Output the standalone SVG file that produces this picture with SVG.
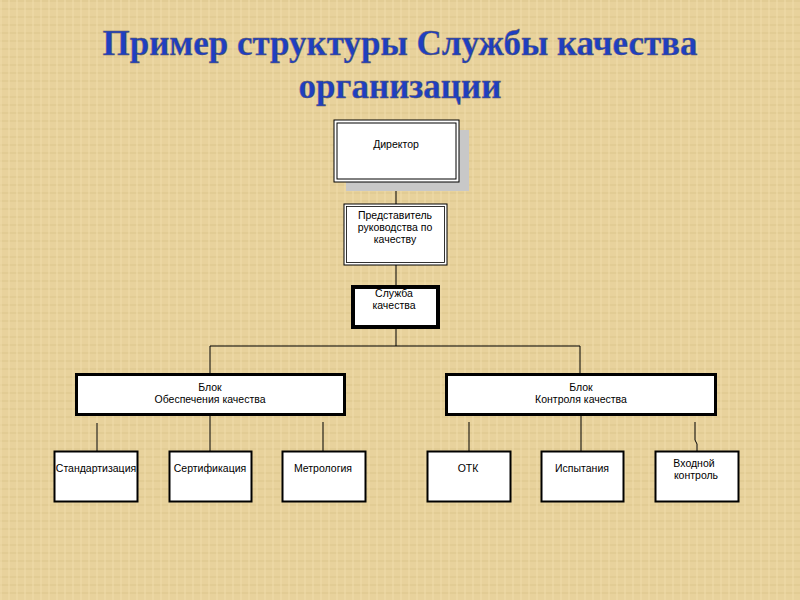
<svg xmlns="http://www.w3.org/2000/svg" width="800" height="600" viewBox="0 0 800 600">
<defs>
<pattern id="tex" width="8" height="8" patternUnits="userSpaceOnUse">
<rect width="8" height="8" fill="#e8d29c"/>
<rect width="8" height="2" fill="#dcc58c" opacity="0.5"/>
<rect width="2" height="8" fill="#f0dcaa" opacity="0.5"/>
</pattern>
</defs>
<style>
.b{fill:#fff;stroke:#000}
.t{font-family:"Liberation Sans",Arial,sans-serif;font-size:10.5px;text-anchor:middle;fill:#000}
.ttl{font-family:"Liberation Serif","Times New Roman",serif;font-weight:bold;font-size:35px;text-anchor:middle;fill:#1f3fc0;stroke:#6a6050;stroke-width:0.4}
.c{stroke:#000;stroke-width:1;fill:none}
</style>
<rect width="800" height="600" fill="url(#tex)"/>
<text class="ttl" x="400" y="55">Пример структуры Службы качества</text>
<text class="ttl" x="400" y="98">организации</text>
<g id="connectors">
<path class="c" d="M396 182V204M396 265V286M396 327V346M210 346H580M210 346V374M580 346V374"/>
<path class="c" d="M97 423V451M210 414V451M323 422V451M469 422V451M581 414V451M695 422V440L697 444V451"/>
</g>
<g id="director">
<rect x="346" y="130" width="123" height="61" fill="#c8c8c8"/>
<rect class="b" x="334" y="120" width="125" height="62" stroke-width="1"/>
<rect x="337" y="123" width="119" height="56" fill="none" stroke="#000" stroke-width="1"/>
<text class="t" x="396" y="148">Директор</text>
</g>
<g id="rep">
<rect class="b" x="344" y="204" width="103" height="61" stroke-width="1"/>
<rect x="346.5" y="206.5" width="98" height="56" fill="none" stroke="#000" stroke-width="0.8"/>
<text class="t" x="395" y="219">Представитель</text>
<text class="t" x="395" y="231">руководства по</text>
<text class="t" x="395" y="243">качеству</text>
</g>
<g id="service">
<rect class="b" x="353" y="287" width="85" height="40" stroke-width="4"/>
<text class="t" x="394" y="297">Служба</text>
<text class="t" x="394" y="309">качества</text>
</g>
<g id="block1">
<rect class="b" x="76.5" y="374.5" width="268" height="40" stroke-width="3"/>
<text class="t" x="210" y="391">Блок</text>
<text class="t" x="210" y="403">Обеспечения качества</text>
</g>
<g id="block2">
<rect class="b" x="446.5" y="374.5" width="269" height="40" stroke-width="3"/>
<text class="t" x="581" y="391">Блок</text>
<text class="t" x="581" y="403">Контроля качества</text>
</g>
<g id="std"><rect class="b" x="54.5" y="451.5" width="83" height="50" stroke-width="2"/><text class="t" x="96" y="472">Стандартизация</text></g>
<g id="cert"><rect class="b" x="169.5" y="451.5" width="82" height="50" stroke-width="2"/><text class="t" x="210" y="472">Сертификация</text></g>
<g id="metr"><rect class="b" x="282.5" y="451.5" width="83" height="50" stroke-width="2"/><text class="t" x="323" y="472">Метрология</text></g>
<g id="otk"><rect class="b" x="427.5" y="451.5" width="83" height="50" stroke-width="2"/><text class="t" x="468" y="472">ОТК</text></g>
<g id="test"><rect class="b" x="541.5" y="451.5" width="82" height="50" stroke-width="2"/><text class="t" x="582" y="472">Испытания</text></g>
<g id="input"><rect class="b" x="655.5" y="451.5" width="83" height="50" stroke-width="2"/><text class="t" x="694" y="467">Входной</text><text class="t" x="696" y="479">контроль</text></g>
</svg>
